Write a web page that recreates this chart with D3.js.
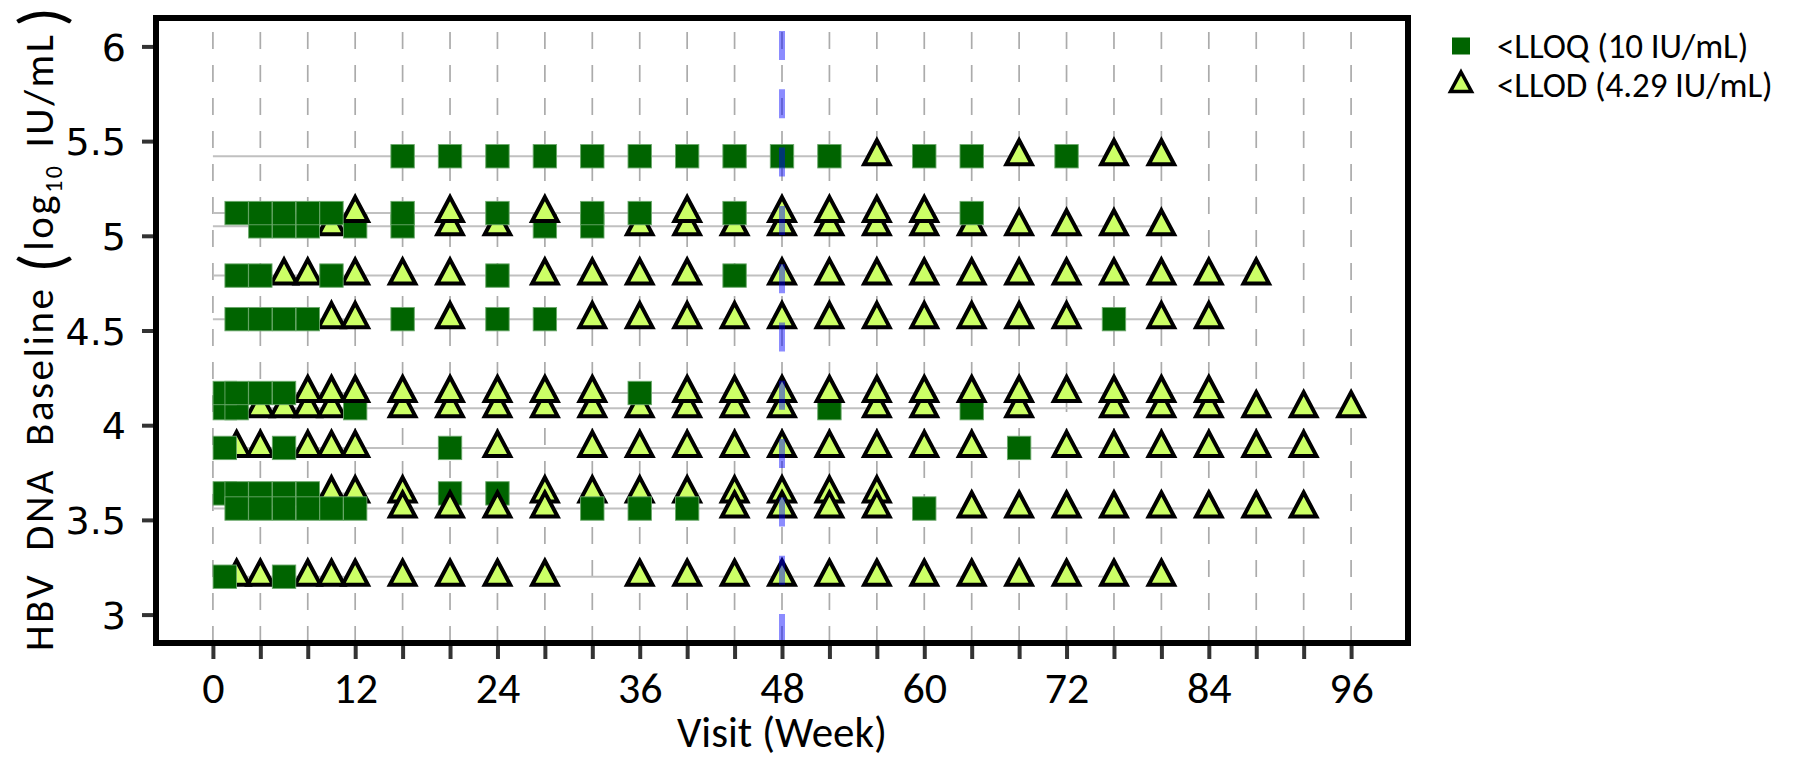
<!DOCTYPE html>
<html>
<head>
<meta charset="utf-8">
<title>HBV DNA by visit</title>
<script src="https://cdn.jsdelivr.net/npm/d3@7"></script>
<style>
  html, body { margin: 0; padding: 0; background: #fff; }
  svg { display: block; }
  text { font-family: Calibri, Carlito, Lato, "Open Sans", sans-serif; fill: #000; }
  .ytick text { font-family: Verdana, "DejaVu Sans", sans-serif; }
</style>
</head>
<body>
<svg id="chart" width="1799" height="759"></svg>
<script>
// Scheduled visits (weeks)
const visitWeeks = [1, 2, 4, 6, 8, 10, 12, 16, 20, 24, 28, 32, 36, 40, 44, 48,
                    52, 56, 60, 64, 68, 72, 76, 80, 84, 88, 92, 96];

// Patients, in drawing order
const patientIds  = ["P01", "P03", "P02", "P04", "P05", "P07", "P06", "P08", "P09", "P10", "P11"];
// Baseline HBV DNA, log10 IU/mL
const baselineLog = [5.42, 5.05, 5.12, 4.79, 4.56, 4.09, 4.17, 3.88, 3.64, 3.56, 3.20];
// One character per visit: Q = <LLOQ, D = <LLOD, - = no result
const visitResults = [
  "-------QQQQQQQQQQDQQDQDD----",
  "--QQQDQQDDQQDDDDDDDDDDDD----",
  "-QQQQQDQDQDQQDQDDDDQ--------",
  "-QQDDQDDDQDDDDQDDDDDDDDDDD--",
  "-QQQQDDQDQQDDDDDDDDDDDQDD---",
  "QQDDDDQDDDDDDDDDQDDQD-DDDDDD",
  "QQQQDDDDDDDDQDDDDDDDDDDDD---",
  "QDDQDDD-QD-DDDDDDDDDQDDDDDD-",
  "QQQQQDDDQQDDDDDDDD----------",
  "-QQQQQQDDDDQQQDDDDQDDDDDDDD-",
  "QDDQDDDDDDD-DDDDDDDDDDDD----"
];

// Axis ticks
const xTickWeeks  = d3.range(0, 97, 4);
const xLabelWeeks = [0, 12, 24, 36, 48, 60, 72, 84, 96];
const yTicks      = [3, 3.5, 4, 4.5, 5, 5.5, 6];
const refWeek     = 48;

const legendLabels = ["<LLOQ (10 IU/mL)", "<LLOD (4.29 IU/mL)"];
const legendKinds  = ["Q", "D"];

// ---------------------------------------------------------------------------
const svg = d3.select("#chart");
const panel = { left: 156, right: 1408, top: 18, bottom: 643 };

const x = d3.scaleLinear().domain([-4.8, 100.8]).range([panel.left, panel.right]);
const y = d3.scaleLinear().domain([2.85, 6.15]).range([panel.bottom, panel.top]);

const SQ = 23.4;          // square marker side
const triangle = (w, h) => `M0,${-2 * h / 3} L${w / 2},${h / 3} L${-w / 2},${h / 3} Z`;
const triPath = triangle(25.5, 24);

svg.append("rect").attr("width", 1799).attr("height", 759).attr("fill", "#fff");

// Vertical dashed grid at every tick week
svg.append("g").selectAll("line")
  .data(xTickWeeks)
  .join("line")
  .attr("x1", d => x(d)).attr("x2", d => x(d))
  .attr("y1", panel.bottom).attr("y2", panel.top)
  .attr("stroke", "#ababab")
  .attr("stroke-width", 1.7)
  .attr("stroke-dasharray", "17,16");

// Build per-patient records
const patients = patientIds.map((id, i) => {
  const visits = [];
  visitResults[i].split("").forEach((c, k) => {
    if (c !== "-") visits.push({ week: visitWeeks[k], kind: c });
  });
  return { id, value: baselineLog[i], visits,
           last: d3.max(visits, v => v.week) };
});

// Follow-up line per patient, from week 0 to the last visit
svg.append("g").selectAll("line")
  .data(patients)
  .join("line")
  .attr("x1", x(0))
  .attr("x2", d => x(d.last))
  .attr("y1", d => y(d.value)).attr("y2", d => y(d.value))
  .attr("stroke", "#c0c0c0")
  .attr("stroke-width", 2);

// Markers, one group per patient (triangles below squares)
const markerLayer = svg.append("g");
patients.forEach(p => {
  const g = markerLayer.append("g");
  g.selectAll("path")
    .data(p.visits.filter(v => v.kind === "D"))
    .join("path")
    .attr("d", triPath)
    .attr("transform", v => `translate(${x(v.week)},${y(p.value)})`)
    .attr("fill", "#ccff66")
    .attr("stroke", "#000")
    .attr("stroke-width", 4)
    .attr("stroke-linejoin", "miter");
  g.selectAll("rect")
    .data(p.visits.filter(v => v.kind === "Q"))
    .join("rect")
    .attr("x", v => x(v.week) - SQ / 2)
    .attr("y", y(p.value) - SQ / 2)
    .attr("width", SQ).attr("height", SQ)
    .attr("fill", "#006400")
    .attr("stroke", "#6aa86a")
    .attr("stroke-width", 0.9);
});

// Reference line at week 48
svg.append("line")
  .attr("x1", x(refWeek)).attr("x2", x(refWeek))
  .attr("y1", panel.bottom).attr("y2", panel.top)
  .attr("stroke", "#0000ff")
  .attr("stroke-opacity", 0.45)
  .attr("stroke-width", 6)
  .attr("stroke-dasharray", "29,29.3");

// Axes
const xAxis = svg.append("g")
  .attr("transform", `translate(0,${panel.bottom})`)
  .call(d3.axisBottom(x).tickValues(xTickWeeks).tickSize(16)
        .tickFormat(d => xLabelWeeks.includes(d) ? d : ""));
xAxis.select(".domain").remove();
xAxis.selectAll(".tick line").attr("stroke", "#333").attr("stroke-width", 4);
xAxis.selectAll(".tick text")
  .attr("y", 60).attr("dy", 0)
  .style("font-size", "44px");

const yAxis = svg.append("g")
  .attr("class", "ytick")
  .attr("transform", `translate(${panel.left},0)`)
  .call(d3.axisLeft(y).tickValues(yTicks).tickSize(14).tickFormat(d3.format("")));
yAxis.select(".domain").remove();
yAxis.selectAll(".tick line").attr("stroke", "#333").attr("stroke-width", 4);
yAxis.selectAll(".tick text")
  .attr("x", -30).attr("dy", "0.36em")
  .style("font-size", "38px");

// Panel border
svg.append("rect")
  .attr("x", panel.left).attr("y", panel.top)
  .attr("width", panel.right - panel.left)
  .attr("height", panel.bottom - panel.top)
  .attr("fill", "none")
  .attr("stroke", "#000")
  .attr("stroke-width", 6);

// X axis title
svg.append("text")
  .attr("x", (panel.left + panel.right) / 2)
  .attr("y", 747)
  .attr("text-anchor", "middle")
  .style("font-size", "43px")
  .text("Visit (Week)");

// Y axis title: HBV DNA Baseline (log10 IU/mL), stretched along the panel height
const yTitle = svg.append("text")
  .attr("transform", "translate(53,651) rotate(-90)")
  .attr("textLength", 644)
  .attr("lengthAdjust", "spacing")
  .style("font-size", "41px");
yTitle.append("tspan").text("HBV");
yTitle.append("tspan").attr("dx", 22).text("DNA");
yTitle.append("tspan").attr("dx", 22).text("Baseline");
yTitle.append("tspan").style("font-size", "64px").attr("dx", 14).attr("dy", 10).text("(");
yTitle.append("tspan").attr("dy", -10).text("log");
yTitle.append("tspan").style("font-size", "24px").attr("dy", 9).text("10");
yTitle.append("tspan").attr("dy", -9).attr("dx", 16).text("IU/mL");
yTitle.append("tspan").style("font-size", "64px").attr("dx", 6).attr("dy", 10).text(")");

// Legend
const legend = svg.append("g").attr("transform", "translate(1461,0)");
legendLabels.forEach((label, i) => {
  const cy = 46 + i * 39;
  if (legendKinds[i] === "Q") {
    legend.append("rect")
      .attr("x", -9).attr("y", cy - 8.5).attr("width", 18).attr("height", 17)
      .attr("fill", "#006400");
  } else {
    legend.append("path")
      .attr("d", triangle(21, 19.5))
      .attr("transform", `translate(0,${cy})`)
      .attr("fill", "#ccff66")
      .attr("stroke", "#000")
      .attr("stroke-width", 3.5);
  }
  legend.append("text")
    .attr("x", 36).attr("y", cy)
    .attr("dy", "0.34em")
    .style("font-size", "35px")
    .style("letter-spacing", "-0.1px")
    .text(label);
});
</script>
</body>
</html>
